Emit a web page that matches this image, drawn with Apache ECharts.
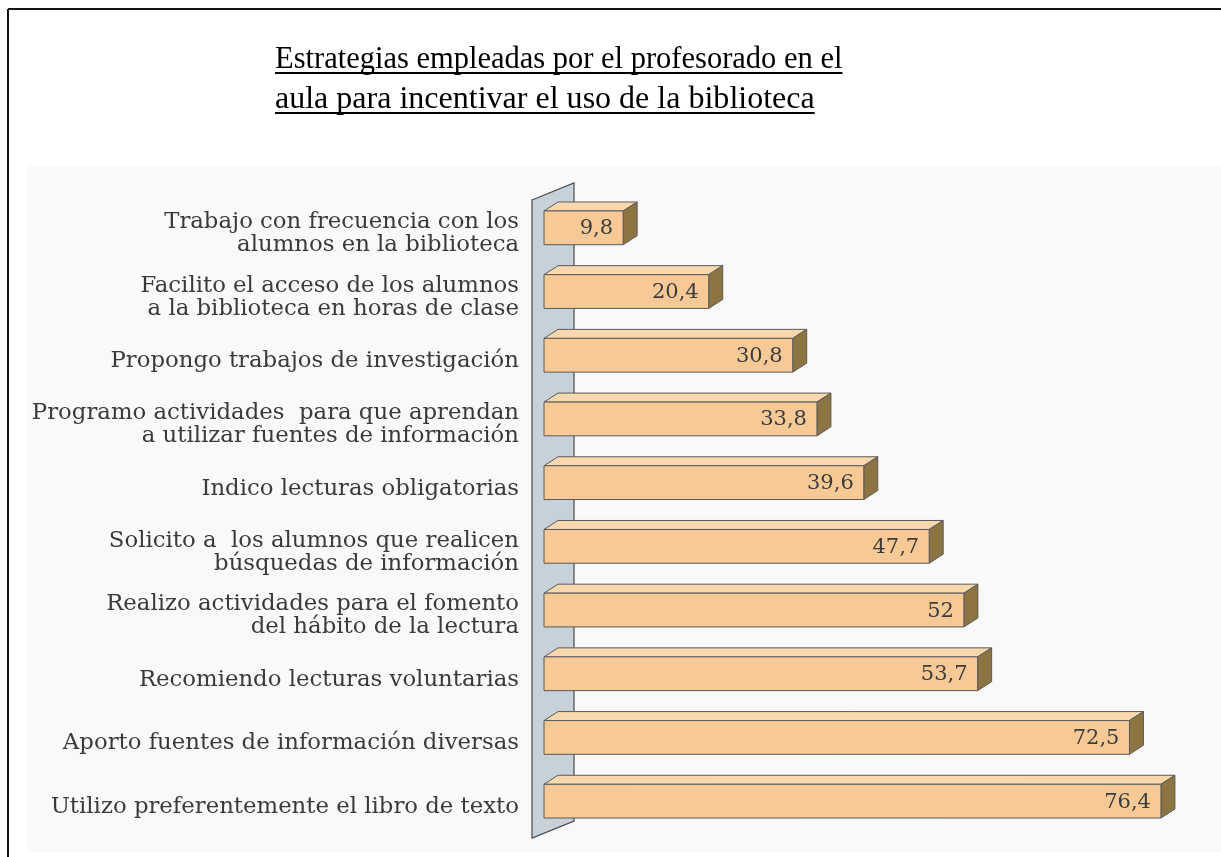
<!DOCTYPE html>
<html><head><meta charset="utf-8">
<script src="https://cdn.jsdelivr.net/npm/echarts@6/dist/echarts.min.js"></script>
<style>html,body{margin:0;padding:0;background:#fff}#c{width:1221px;height:857px}</style>
</head><body><div id="c"></div>
<script>
var categories = [
  "Trabajo con frecuencia con los\nalumnos en la biblioteca",
  "Facilito el acceso de los alumnos\na la biblioteca en horas de clase",
  "Propongo trabajos de investigación",
  "Programo actividades  para que aprendan\na utilizar fuentes de información",
  "Indico lecturas obligatorias",
  "Solicito a  los alumnos que realicen\nbúsquedas de información",
  "Realizo actividades para el fomento\ndel hábito de la lectura",
  "Recomiendo lecturas voluntarias",
  "Aporto fuentes de información diversas",
  "Utilizo preferentemente el libro de texto"
];
var values = [9.8, 20.4, 30.8, 33.8, 39.6, 47.7, 52, 53.7, 72.5, 76.4];
var titleLines = [
  "Estrategias empleadas por el profesorado en el",
  "aula para incentivar el uso de la biblioteca"
];

var FRONT = '#F6C996', TOP = '#F9D8AE', SIDE = '#8C7543', EDGE = '#5a5a5a';
var titleFont = '30.5px "Liberation Serif"';
function textW(t, font){ var c=document.createElement('canvas').getContext('2d'); c.font=font; return c.measureText(t).width; }

var barData = values.map(function(v,i){ return [v,i]; });

function renderWall(params, api){
  var cs = params.coordSys;
  var x0 = cs.x, y0 = cs.y, y1 = cs.y + cs.height;
  return {type:'polygon', shape:{points:[[x0-12,y0+4],[x0+30,y0-13],[x0+30,y1-12],[x0-12,y1+5]]},
    style:{fill:'#C7D1DA', stroke:'#4a4a4a', lineWidth:1.2}};
}
function renderBar(params, api){
  var v = api.value(0), ci = api.value(1);
  var s = api.coord([0, ci]), e = api.coord([v, ci]);
  var h = api.size([0,1])[1]*0.53;
  var x0 = s[0], x1 = e[0], yT = s[1]-h/2, yB = s[1]+h/2, dx = 14, dy = 9;
  var st = {stroke:EDGE, lineWidth:1};
  return {type:'group', children:[
    {type:'polygon', shape:{points:[[x0,yT],[x0+dx,yT-dy],[x1+dx,yT-dy],[x1,yT]]}, style:Object.assign({fill:TOP},st)},
    {type:'polygon', shape:{points:[[x1,yT],[x1+dx,yT-dy],[x1+dx,yB-dy],[x1,yB]]}, style:Object.assign({fill:SIDE},st)},
    {type:'rect', shape:{x:x0,y:yT,width:x1-x0,height:h}, style:Object.assign({fill:FRONT},st)},
    {type:'text', style:{text:String(v).replace('.',','), x:x1-10, y:s[1]+1, align:'right', verticalAlign:'middle',
      font:'21px "DejaVu Serif"', fill:'#3c3c3c'}}
  ]};
}

var graphics = [
  {type:'rect', shape:{x:27,y:166,width:1194,height:686}, style:{fill:'#f9f9f9'}, z:-10},
  {type:'line', shape:{x1:8,y1:9,x2:1221,y2:9}, style:{stroke:'#111',lineWidth:2}},
  {type:'line', shape:{x1:8,y1:9,x2:8,y2:857}, style:{stroke:'#111',lineWidth:2}}
];
var titleY = [60, 100], titleSX = [1, 1.05];
titleLines.forEach(function(t,i){
  graphics.push({type:'text', x:275, y:titleY[i], scaleX:titleSX[i], style:{text:t, font:titleFont, fill:'#000', align:'left', verticalAlign:'middle'}});
  graphics.push({type:'line', shape:{x1:275,y1:titleY[i]+13,x2:275+textW(t,titleFont)*titleSX[i],y2:titleY[i]+13}, style:{stroke:'#000',lineWidth:2}});
});

var chart = echarts.init(document.getElementById('c'));
chart.setOption({
  backgroundColor:'#fff',
  animation:false,
  graphic: graphics,
  grid:{left:544, top:196, width:646, height:637},
  xAxis:{type:'value', min:0, max:80, show:false},
  yAxis:{type:'category', data:categories, inverse:true,
    axisLine:{show:false}, axisTick:{show:false}, splitLine:{show:false},
    axisLabel:{margin:25, fontFamily:'DejaVu Serif', fontSize:22.8, lineHeight:23, color:'#3a3a3a', align:'right',
      formatter:function(v){ return '{s| }\n' + v; },
      rich:{s:{fontSize:4, lineHeight:12}}}},
  series:[
    {type:'custom', renderItem:renderWall, data:[[0,0]], encode:{x:0,y:1}, silent:true, z:1},
    {type:'custom', renderItem:renderBar, data:barData, encode:{x:0,y:1}, z:2}
  ]
});
</script></body></html>
